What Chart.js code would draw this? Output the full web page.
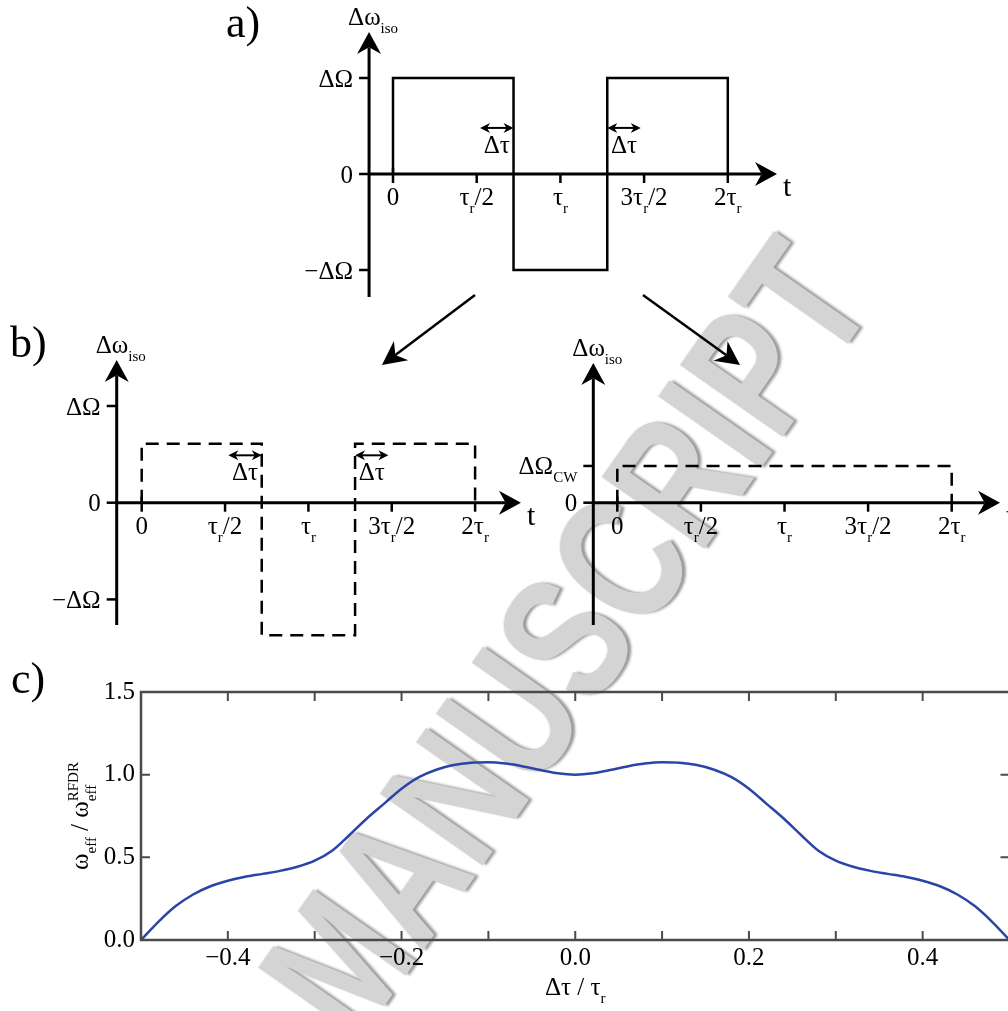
<!DOCTYPE html>
<html>
<head>
<meta charset="utf-8">
<script src="https://cdn.jsdelivr.net/npm/chart.js@4.4.1/dist/chart.umd.min.js"></script>
<style>
    html, body { margin: 0; padding: 0; background: #fff; overflow: hidden; }
    body { width: 1008px; height: 1011px; position: relative; }
    canvas { position: absolute; }
    .tag { position: absolute; font: 44px/1 "Liberation Serif", "Times New Roman", serif; color: #000; }
    #watermark {
        position: absolute; left: 565px; top: 638px;
        transform: translate(-50%, -50%) rotate(-55deg) scaleX(0.75);
        font: bold 182px/1 "Liberation Sans", Arial, sans-serif;
        color: #d4d4d4;
        text-shadow: 3px 3px 3px #9c9c9c, -1px -1px 1px #f2f2f2;
        white-space: nowrap;
    }
</style>
</head>
<body>
<div id="watermark">MANUSCRIPT</div>
<canvas id="panel-a" width="610" height="375" style="left:200px;top:0px"></canvas>
<canvas id="panel-b1" width="545" height="330" style="left:0px;top:320px"></canvas>
<canvas id="panel-b2" width="508" height="330" style="left:500px;top:320px"></canvas>
<canvas id="panel-c" width="1020" height="351" style="left:0px;top:660px"></canvas>
<div class="tag" style="left:226px;top:1px">a)</div>
<div class="tag" style="left:10px;top:321px">b)</div>
<div class="tag" style="left:11px;top:657px">c)</div>
<script>
// time axis (units of τr) shared by a) and b)
const timeTicks = [0, 0.5, 1, 1.5, 2];
const timeTickLabels = ['0', 'τ_{r}/2', 'τ_{r}', '3τ_{r}/2', '2τ_{r}'];

// a) square wave, amplitude in units of ΔΩ
const waveA_t = [0, 0, 0.72, 0.72, 1.28, 1.28, 2, 2];
const waveA_v = [0, 1, 1, -1, -1, 1, 1, 0];
const ampTicks = [1, 0, -1];
const ampLabels = ['ΔΩ', '0', '−ΔΩ'];

// b) left: shifted wave (dashed)
const waveB1_t = [0, 0, 0.72, 0.72, 1.28, 1.28, 2, 2];
const waveB1_v = [0, 0.61, 0.61, -1.37, -1.37, 0.61, 0.61, 0];

// b) right: CW equivalent (dashed)
const waveB2_t = [0, 0, 2, 2];
const waveB2_v = [0, 0.38, 0.38, 0];
const cwTicks = [0.38, 0];
const cwLabels = ['ΔΩ_{CW}', '0'];

// Δτ markers: [from, to] in τr
const shiftArrows = [[0.52, 0.72], [1.28, 1.48]];

// c) scaled effective field vs. Δτ/τr
const dtau = [-0.50, -0.48, -0.46, -0.44, -0.42, -0.40, -0.38, -0.36, -0.34, -0.32,
              -0.30, -0.28, -0.26, -0.24, -0.22, -0.20, -0.18, -0.16, -0.14, -0.12,
              -0.10, -0.08, -0.06, -0.04, -0.02, 0.00, 0.02, 0.04, 0.06, 0.08,
              0.10, 0.12, 0.14, 0.16, 0.18, 0.20, 0.22, 0.24, 0.26, 0.28,
              0.30, 0.32, 0.34, 0.36, 0.38, 0.40, 0.42, 0.44, 0.46, 0.48, 0.50];
const omegaRatio = [0.00, 0.11, 0.205, 0.275, 0.325, 0.358, 0.382, 0.40, 0.418, 0.443,
                    0.48, 0.54, 0.635, 0.735, 0.825, 0.915, 0.985, 1.03, 1.058, 1.072,
                    1.075, 1.067, 1.05, 1.028, 1.008, 1.00, 1.008, 1.028, 1.05, 1.067,
                    1.075, 1.072, 1.058, 1.03, 0.985, 0.915, 0.825, 0.735, 0.635, 0.54,
                    0.48, 0.443, 0.418, 0.40, 0.382, 0.358, 0.325, 0.275, 0.205, 0.11, 0.00];
const xTicksC = [-0.4, -0.3, -0.2, -0.1, 0, 0.1, 0.2, 0.3, 0.4];
const xTickLabelsC = ['−0.4', '', '−0.2', '', '0.0', '', '0.2', '', '0.4'];
const yTicksC = [0, 0.5, 1, 1.5];
const yTickLabelsC = ['0.0', '0.5', '1.0', '1.5'];

const SERIF = '"Liberation Serif", "Times New Roman", serif';

// tiny rich text: "ω_{eff}^{RFDR}" style markup
function parseRich(str) {
    const parts = [];
    const re = /([_^])\{([^}]*)\}|([^_^]+)/g;
    let m;
    while ((m = re.exec(str))) {
        if (m[3]) parts.push({ text: m[3], mode: '' });
        else parts.push({ text: m[2], mode: m[1] === '_' ? 'sub' : 'sup' });
    }
    return parts;
}

function drawRich(ctx, str, x, y, size, align) {
    const parts = parseRich(str);
    let cx = 0, subStart = 0;
    const items = [];
    parts.forEach((p, i) => {
        const fs = p.mode ? Math.round(size * 0.6) : size;
        ctx.font = fs + 'px ' + SERIF;
        const w = ctx.measureText(p.text).width;
        let px = cx;
        if (p.mode === 'sup' && i > 0 && parts[i - 1].mode === 'sub') px = subStart;
        if (p.mode === 'sub') subStart = cx;
        const dy = p.mode === 'sub' ? size * 0.32 : p.mode === 'sup' ? -size * 0.42 : 0;
        items.push({ text: p.text, fs, px, dy });
        cx = Math.max(cx, px + w);
    });
    const off = align === 'center' ? -cx / 2 : align === 'right' ? -cx : 0;
    ctx.textAlign = 'left';
    ctx.textBaseline = 'alphabetic';
    ctx.fillStyle = '#000';
    items.forEach(it => {
        ctx.font = it.fs + 'px ' + SERIF;
        ctx.fillText(it.text, x + off + it.px, y + it.dy);
    });
}

function arrowHead(ctx, x, y, angle, len, half) {
    ctx.save();
    ctx.translate(x, y);
    ctx.rotate(angle);
    ctx.beginPath();
    ctx.moveTo(0, 0);
    ctx.lineTo(-len, -half);
    ctx.lineTo(-len * 0.7, 0);
    ctx.lineTo(-len, half);
    ctx.closePath();
    ctx.fill();
    ctx.restore();
}

function arrowLine(ctx, x1, y1, x2, y2, len, half, width) {
    const a = Math.atan2(y2 - y1, x2 - x1);
    ctx.lineWidth = width;
    ctx.beginPath();
    ctx.moveTo(x1, y1);
    ctx.lineTo(x2 - Math.cos(a) * len * 0.7, y2 - Math.sin(a) * len * 0.7);
    ctx.stroke();
    arrowHead(ctx, x2, y2, a, len, half);
}

// axes with arrows, ticks and labels for the sketch panels
const diagramPlugin = {
    id: 'diagram',
    afterDraw(chart, args, o) {
        const ctx = chart.ctx;
        const xs = chart.scales.x, ys = chart.scales.y;
        const X = v => xs.getPixelForValue(v), Y = v => ys.getPixelForValue(v);
        const ax = X(o.axisX), ay = Y(0);
        ctx.save();
        ctx.strokeStyle = '#000';
        ctx.fillStyle = '#000';
        ctx.lineCap = 'butt';
        // y axis
        arrowLine(ctx, ax, Y(o.yBottom), ax, Y(o.yTop), 22, 12, 3);
        // x axis
        arrowLine(ctx, ax, ay, X(o.xTip), ay, 22, 12, 3);
        // y ticks
        ctx.lineWidth = 2.5;
        o.yTicks.forEach((v, i) => {
            ctx.beginPath();
            ctx.moveTo(ax - 10, Y(v));
            ctx.lineTo(ax, Y(v));
            ctx.stroke();
            drawRich(ctx, o.yLabels[i], ax - 16, Y(v) + 8.5, 25, 'right');
        });
        // x ticks
        timeTicks.forEach((v, i) => {
            ctx.lineWidth = 2.5;
            ctx.beginPath();
            ctx.moveTo(X(v), ay - (v === 0 ? 6 : 0));
            ctx.lineTo(X(v), ay + 9);
            ctx.stroke();
            drawRich(ctx, timeTickLabels[i], X(v), ay + 31, 25, 'center');
        });
        // axis titles
        drawRich(ctx, 'Δω_{iso}', ax - 21, Y(o.yTop) - 7, 25, 'left');
        ctx.font = '30px ' + SERIF;
        ctx.textAlign = 'left';
        ctx.fillText('t', X(o.xTip) + 6, ay + 22);
        // Δτ markers
        (o.shifts || []).forEach(s => {
            const y = Y(o.shiftY);
            ctx.lineWidth = 2;
            ctx.beginPath();
            ctx.moveTo(X(s[0]) + 5, y);
            ctx.lineTo(X(s[1]) - 5, y);
            ctx.stroke();
            arrowHead(ctx, X(s[1]), y, 0, 10, 5);
            arrowHead(ctx, X(s[0]), y, Math.PI, 10, 5);
            drawRich(ctx, 'Δτ', (X(s[0]) + X(s[1])) / 2, Y(o.shiftLabelY), 25, 'center');
        });
        // connector arrows to panel b
        (o.connectors || []).forEach(c => {
            arrowLine(ctx, X(c[0]), Y(c[1]), X(c[2]), Y(c[3]), 24, 12, 2.5);
        });
        ctx.restore();
    }
};

function pageRange(start, size, origin, unit) {
    return { min: (start - origin) / unit, max: (start + size - origin) / unit };
}

function makeSketch(id, box, datasets, diagram) {
    const xr = pageRange(box.left, box.width, box.x0, box.xUnit);
    const yr = pageRange(box.y0 - box.top - box.height, box.height, 0, box.yUnit);
    return new Chart(document.getElementById(id), {
        type: 'line',
        data: { datasets },
        options: {
            responsive: false,
            animation: false,
            layout: { padding: 0 },
            plugins: { legend: { display: false }, tooltip: { enabled: false }, diagram },
            scales: {
                x: { type: 'linear', display: false, min: xr.min, max: xr.max },
                y: { type: 'linear', display: false, min: yr.min, max: yr.max }
            }
        },
        plugins: [diagramPlugin]
    });
}

function wave(ts, vs, dashed) {
    return {
        data: ts.map((t, i) => ({ x: t, y: vs[i] })),
        borderColor: '#000',
        borderWidth: 2.5,
        borderDash: dashed ? [13, 8] : [],
        pointRadius: 0,
        tension: 0,
        clip: false
    };
}

makeSketch('panel-a',
    { left: 200, top: 0, width: 610, height: 375, x0: 393, xUnit: 167.4, y0: 174, yUnit: 96 },
    [wave(waveA_t, waveA_v, false)],
    { axisX: -0.143, xTip: 2.294, yTop: 1.48, yBottom: -1.281, yTicks: ampTicks, yLabels: ampLabels,
      shifts: shiftArrows, shiftY: 0.48, shiftLabelY: 0.22,
      connectors: [[0.49, -1.26, -0.066, -1.99], [1.493, -1.26, 2.073, -1.99]] });

makeSketch('panel-b1',
    { left: 0, top: 320, width: 545, height: 330, x0: 141.7, xUnit: 166.7, y0: 502.7, yUnit: 96.7 },
    [wave(waveB1_t, waveB1_v, true)],
    { axisX: -0.15, xTip: 2.275, yTop: 1.476, yBottom: -1.265, yTicks: ampTicks, yLabels: ampLabels,
      shifts: shiftArrows, shiftY: 0.49, shiftLabelY: 0.235 });

makeSketch('panel-b2',
    { left: 500, top: 320, width: 508, height: 330, x0: 617.3, xUnit: 167.2, y0: 502.7, yUnit: 96.7 },
    [wave(waveB2_t, waveB2_v, true)],
    { axisX: -0.1435, xTip: 2.289, yTop: 1.445, yBottom: -1.265, yTicks: cwTicks, yLabels: cwLabels });

// frame with inward ticks and the two axis titles for c)
const framePlugin = {
    id: 'frame',
    afterDraw(chart) {
        const ctx = chart.ctx, a = chart.chartArea;
        const xs = chart.scales.x, ys = chart.scales.y;
        ctx.save();
        ctx.strokeStyle = '#4a4a4a';
        ctx.lineWidth = 2.5;
        ctx.strokeRect(a.left, a.top, a.right - a.left, a.bottom - a.top);
        ctx.lineWidth = 2;
        ctx.beginPath();
        xs.ticks.forEach(t => {
            const x = xs.getPixelForValue(t.value);
            ctx.moveTo(x, a.bottom); ctx.lineTo(x, a.bottom - 9);
            ctx.moveTo(x, a.top); ctx.lineTo(x, a.top + 9);
        });
        ys.ticks.forEach(t => {
            const y = ys.getPixelForValue(t.value);
            if (t.value <= 0 || t.value >= 1.5) return;
            ctx.moveTo(a.left, y); ctx.lineTo(a.left + 9, y);
            ctx.moveTo(a.right, y); ctx.lineTo(a.right - 9, y);
        });
        ctx.stroke();
        drawRich(ctx, 'Δτ / τ_{r}', xs.getPixelForValue(0), a.bottom + 55, 25, 'center');
        ctx.translate(88, (a.top + a.bottom) / 2);
        ctx.rotate(-Math.PI / 2);
        drawRich(ctx, 'ω_{eff} / ω_{eff}^{RFDR}', 0, 0, 25, 'center');
        ctx.restore();
    }
};

new Chart(document.getElementById('panel-c'), {
    type: 'line',
    data: {
        datasets: [{
            data: dtau.map((x, i) => ({ x, y: omegaRatio[i] })),
            borderColor: '#2b45a6',
            borderWidth: 2.5,
            pointRadius: 0,
            cubicInterpolationMode: 'monotone',
            clip: false
        }]
    },
    options: {
        responsive: false,
        animation: false,
        layout: { padding: { top: 32, right: 10.5, bottom: 0, left: 0 } },
        plugins: { legend: { display: false }, tooltip: { enabled: false } },
        scales: {
            x: {
                type: 'linear', min: -0.5, max: 0.5,
                afterFit(s) { s.height = 71; },
                afterBuildTicks(s) { s.ticks = xTicksC.map(v => ({ value: v })); },
                ticks: {
                    padding: 3, color: '#000', maxRotation: 0, autoSkip: false,
                    font: { family: SERIF, size: 25 },
                    callback: (v, i) => xTickLabelsC[i]
                },
                grid: { display: false, drawTicks: false },
                border: { display: false }
            },
            y: {
                min: 0, max: 1.5,
                afterFit(s) { s.width = 141; },
                afterBuildTicks(s) { s.ticks = yTicksC.map(v => ({ value: v })); },
                ticks: {
                    padding: 6, color: '#000',
                    font: { family: SERIF, size: 25 },
                    callback: (v, i) => yTickLabelsC[i]
                },
                grid: { display: false, drawTicks: false },
                border: { display: false }
            }
        }
    },
    plugins: [framePlugin]
});
</script>
</body>
</html>
